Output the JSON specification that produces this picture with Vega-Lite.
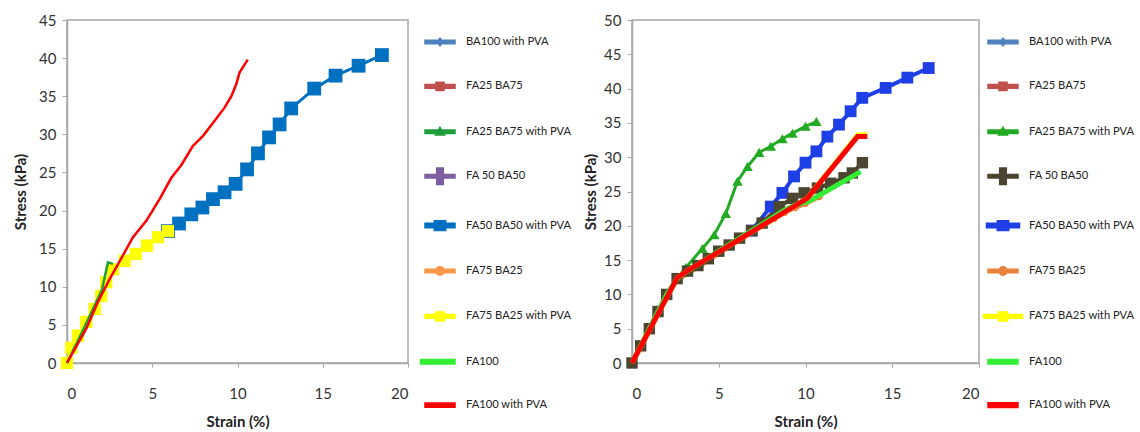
{
  "$schema": "https://vega.github.io/schema/vega-lite/v6.json",
  "padding": {"left": 12, "top": 12, "right": 0, "bottom": 0},
  "background": "white",
  "config": {
    "font": "Lato",
    "view": {"stroke": "#a6a6a6", "strokeWidth": 1.5},
    "axis": {"grid": false, "ticks": true, "domainColor": "#a6a6a6", "domainWidth": 1.5, "tickColor": "#a6a6a6", "labelFont": "Lato", "labelFontSize": 15, "labelColor": "#333333", "titleFont": "Lato", "titleFontSize": 15, "titleFontWeight": "bold", "titleColor": "#222222"},
    "axisX": {"tickSize": 4, "labelPadding": 19, "titlePadding": 13},
    "axisY": {"tickSize": 5, "labelPadding": 6},
    "legend": {"title": null, "orient": "right", "padding": 6, "rowPadding": 21.4, "symbolSize": 900, "labelFont": "Lato", "labelFontSize": 11.2, "labelColor": "#222222", "labelOffset": 10}
  },
  "datasets": {
    "xticks": [{"x": 0}, {"x": 5}, {"x": 10}, {"x": 15}, {"x": 20}],
    "yticksL": [{"y": 5}, {"y": 10}, {"y": 15}, {"y": 20}, {"y": 25}, {"y": 30}, {"y": 35}, {"y": 40}, {"y": 45}],
    "yticksR": [{"y": 5}, {"y": 10}, {"y": 15}, {"y": 20}, {"y": 25}, {"y": 30}, {"y": 35}, {"y": 40}, {"y": 45}, {"y": 50}],
    "left": [
      {"s": "FA50 BA50 with PVA", "x": 5.92, "y": 17.3},
      {"s": "FA50 BA50 with PVA", "x": 6.57, "y": 18.3},
      {"s": "FA50 BA50 with PVA", "x": 7.29, "y": 19.5},
      {"s": "FA50 BA50 with PVA", "x": 7.94, "y": 20.4},
      {"s": "FA50 BA50 with PVA", "x": 8.56, "y": 21.5},
      {"s": "FA50 BA50 with PVA", "x": 9.24, "y": 22.4},
      {"s": "FA50 BA50 with PVA", "x": 9.89, "y": 23.5},
      {"s": "FA50 BA50 with PVA", "x": 10.56, "y": 25.4},
      {"s": "FA50 BA50 with PVA", "x": 11.2, "y": 27.5},
      {"s": "FA50 BA50 with PVA", "x": 11.85, "y": 29.6},
      {"s": "FA50 BA50 with PVA", "x": 12.47, "y": 31.3},
      {"s": "FA50 BA50 with PVA", "x": 13.15, "y": 33.4},
      {"s": "FA50 BA50 with PVA", "x": 14.5, "y": 36.0},
      {"s": "FA50 BA50 with PVA", "x": 15.75, "y": 37.7},
      {"s": "FA50 BA50 with PVA", "x": 17.1, "y": 39.0},
      {"s": "FA50 BA50 with PVA", "x": 18.47, "y": 40.4},
      {"s": "FA75 BA25 with PVA", "x": 0, "y": 0},
      {"s": "FA75 BA25 with PVA", "x": 0.25, "y": 2.0},
      {"s": "FA75 BA25 with PVA", "x": 0.64, "y": 3.6},
      {"s": "FA75 BA25 with PVA", "x": 1.13, "y": 5.4},
      {"s": "FA75 BA25 with PVA", "x": 1.62, "y": 7.1},
      {"s": "FA75 BA25 with PVA", "x": 2.0, "y": 8.8},
      {"s": "FA75 BA25 with PVA", "x": 2.3, "y": 10.6},
      {"s": "FA75 BA25 with PVA", "x": 2.7, "y": 12.3},
      {"s": "FA75 BA25 with PVA", "x": 3.38, "y": 13.4},
      {"s": "FA75 BA25 with PVA", "x": 4.03, "y": 14.3},
      {"s": "FA75 BA25 with PVA", "x": 4.69, "y": 15.4},
      {"s": "FA75 BA25 with PVA", "x": 5.34, "y": 16.5},
      {"s": "FA75 BA25 with PVA", "x": 5.92, "y": 17.3},
      {"s": "FA25 BA75 with PVA", "x": 0, "y": 0},
      {"s": "FA25 BA75 with PVA", "x": 1.0, "y": 4.6},
      {"s": "FA25 BA75 with PVA", "x": 2.05, "y": 9.6},
      {"s": "FA25 BA75 with PVA", "x": 2.4, "y": 13.2},
      {"s": "FA25 BA75 with PVA", "x": 2.7, "y": 13.0},
      {"s": "FA100 with PVA", "x": 0, "y": 0},
      {"s": "FA100 with PVA", "x": 1.13, "y": 4.5},
      {"s": "FA100 with PVA", "x": 1.8, "y": 7.95},
      {"s": "FA100 with PVA", "x": 2.5, "y": 11.0},
      {"s": "FA100 with PVA", "x": 3.3, "y": 14.2},
      {"s": "FA100 with PVA", "x": 3.87, "y": 16.5},
      {"s": "FA100 with PVA", "x": 4.65, "y": 18.65},
      {"s": "FA100 with PVA", "x": 5.43, "y": 21.5},
      {"s": "FA100 with PVA", "x": 6.12, "y": 24.3},
      {"s": "FA100 with PVA", "x": 6.7, "y": 25.95},
      {"s": "FA100 with PVA", "x": 7.39, "y": 28.5},
      {"s": "FA100 with PVA", "x": 7.98, "y": 29.8},
      {"s": "FA100 with PVA", "x": 8.56, "y": 31.5},
      {"s": "FA100 with PVA", "x": 9.24, "y": 33.5},
      {"s": "FA100 with PVA", "x": 9.64, "y": 35.0},
      {"s": "FA100 with PVA", "x": 9.93, "y": 36.6},
      {"s": "FA100 with PVA", "x": 10.12, "y": 38.1},
      {"s": "FA100 with PVA", "x": 10.6, "y": 39.8}
    ],
    "right": [
      {"s": "FA75 BA25", "x": 0, "y": 0},
      {"s": "FA75 BA25", "x": 0.5, "y": 2.2},
      {"s": "FA75 BA25", "x": 1.0, "y": 4.6},
      {"s": "FA75 BA25", "x": 1.5, "y": 7.1},
      {"s": "FA75 BA25", "x": 2.0, "y": 9.5},
      {"s": "FA75 BA25", "x": 2.6, "y": 12.0},
      {"s": "FA75 BA25", "x": 3.2, "y": 13.0},
      {"s": "FA75 BA25", "x": 3.8, "y": 13.9},
      {"s": "FA75 BA25", "x": 4.4, "y": 14.9},
      {"s": "FA75 BA25", "x": 5.0, "y": 15.9},
      {"s": "FA75 BA25", "x": 5.6, "y": 16.9},
      {"s": "FA75 BA25", "x": 6.2, "y": 17.9},
      {"s": "FA75 BA25", "x": 6.9, "y": 19.0},
      {"s": "FA75 BA25", "x": 7.5, "y": 20.0},
      {"s": "FA75 BA25", "x": 8.2, "y": 21.0},
      {"s": "FA75 BA25", "x": 8.8, "y": 21.9},
      {"s": "FA75 BA25", "x": 9.4, "y": 22.6},
      {"s": "FA75 BA25", "x": 10.0, "y": 23.2},
      {"s": "FA75 BA25", "x": 10.8, "y": 24.2},
      {"s": "FA25 BA75 with PVA", "x": 0, "y": 0},
      {"s": "FA25 BA75 with PVA", "x": 0.5, "y": 2.5},
      {"s": "FA25 BA75 with PVA", "x": 1.0, "y": 5.0},
      {"s": "FA25 BA75 with PVA", "x": 1.5, "y": 7.5},
      {"s": "FA25 BA75 with PVA", "x": 2.0, "y": 10.0},
      {"s": "FA25 BA75 with PVA", "x": 2.6, "y": 12.3},
      {"s": "FA25 BA75 with PVA", "x": 3.1, "y": 13.9},
      {"s": "FA25 BA75 with PVA", "x": 4.06, "y": 16.7},
      {"s": "FA25 BA75 with PVA", "x": 4.74, "y": 18.7},
      {"s": "FA25 BA75 with PVA", "x": 5.41, "y": 21.8},
      {"s": "FA25 BA75 with PVA", "x": 6.08, "y": 26.5},
      {"s": "FA25 BA75 with PVA", "x": 6.66, "y": 28.65},
      {"s": "FA25 BA75 with PVA", "x": 7.33, "y": 30.7},
      {"s": "FA25 BA75 with PVA", "x": 8.0, "y": 31.6},
      {"s": "FA25 BA75 with PVA", "x": 8.67, "y": 32.7},
      {"s": "FA25 BA75 with PVA", "x": 9.25, "y": 33.5},
      {"s": "FA25 BA75 with PVA", "x": 10.0, "y": 34.5},
      {"s": "FA25 BA75 with PVA", "x": 10.63, "y": 35.2},
      {"s": "FA50 BA50 with PVA", "x": 6.9, "y": 19.3},
      {"s": "FA50 BA50 with PVA", "x": 8.0, "y": 22.8},
      {"s": "FA50 BA50 with PVA", "x": 8.67, "y": 24.8},
      {"s": "FA50 BA50 with PVA", "x": 9.34, "y": 27.2},
      {"s": "FA50 BA50 with PVA", "x": 10.0, "y": 29.2},
      {"s": "FA50 BA50 with PVA", "x": 10.63, "y": 30.85},
      {"s": "FA50 BA50 with PVA", "x": 11.26, "y": 33.0},
      {"s": "FA50 BA50 with PVA", "x": 11.93, "y": 34.75},
      {"s": "FA50 BA50 with PVA", "x": 12.6, "y": 36.7},
      {"s": "FA50 BA50 with PVA", "x": 13.27, "y": 38.65},
      {"s": "FA50 BA50 with PVA", "x": 14.62, "y": 40.1},
      {"s": "FA50 BA50 with PVA", "x": 15.87, "y": 41.6},
      {"s": "FA50 BA50 with PVA", "x": 17.1, "y": 43.0},
      {"s": "FA 50 BA50", "x": 0, "y": 0},
      {"s": "FA 50 BA50", "x": 0.5, "y": 2.5},
      {"s": "FA 50 BA50", "x": 1.0, "y": 5.0},
      {"s": "FA 50 BA50", "x": 1.5, "y": 7.5},
      {"s": "FA 50 BA50", "x": 2.0, "y": 10.0},
      {"s": "FA 50 BA50", "x": 2.6, "y": 12.3},
      {"s": "FA 50 BA50", "x": 3.2, "y": 13.4},
      {"s": "FA 50 BA50", "x": 3.8, "y": 14.2},
      {"s": "FA 50 BA50", "x": 4.4, "y": 15.2},
      {"s": "FA 50 BA50", "x": 5.0, "y": 16.3},
      {"s": "FA 50 BA50", "x": 5.6, "y": 17.2},
      {"s": "FA 50 BA50", "x": 6.2, "y": 18.2},
      {"s": "FA 50 BA50", "x": 6.9, "y": 19.3},
      {"s": "FA 50 BA50", "x": 7.5, "y": 20.4},
      {"s": "FA 50 BA50", "x": 8.49, "y": 22.8},
      {"s": "FA 50 BA50", "x": 9.25, "y": 24.0},
      {"s": "FA 50 BA50", "x": 9.92, "y": 24.8},
      {"s": "FA 50 BA50", "x": 10.69, "y": 25.5},
      {"s": "FA 50 BA50", "x": 11.45, "y": 26.2},
      {"s": "FA 50 BA50", "x": 12.22, "y": 27.0},
      {"s": "FA 50 BA50", "x": 12.7, "y": 27.7},
      {"s": "FA 50 BA50", "x": 13.28, "y": 29.2},
      {"s": "FA75 BA25 with PVA", "x": 0, "y": 0},
      {"s": "FA75 BA25 with PVA", "x": 2.6, "y": 12.4},
      {"s": "FA75 BA25 with PVA", "x": 3.3, "y": 13.6},
      {"s": "FA75 BA25 with PVA", "x": 10.1, "y": 24.0},
      {"s": "FA75 BA25 with PVA", "x": 13.0, "y": 33.2},
      {"s": "FA75 BA25 with PVA", "x": 13.56, "y": 33.3},
      {"s": "FA100", "x": 0, "y": 0},
      {"s": "FA100", "x": 1.0, "y": 5.0},
      {"s": "FA100", "x": 2.0, "y": 10.0},
      {"s": "FA100", "x": 2.6, "y": 12.3},
      {"s": "FA100", "x": 3.2, "y": 13.4},
      {"s": "FA100", "x": 5.0, "y": 16.3},
      {"s": "FA100", "x": 6.9, "y": 19.3},
      {"s": "FA100", "x": 8.8, "y": 22.3},
      {"s": "FA100", "x": 9.4, "y": 23.0},
      {"s": "FA100", "x": 10.2, "y": 23.6},
      {"s": "FA100", "x": 13.18, "y": 27.9},
      {"s": "FA100 with PVA", "x": 0, "y": 0},
      {"s": "FA100 with PVA", "x": 2.6, "y": 12.4},
      {"s": "FA100 with PVA", "x": 3.3, "y": 13.6},
      {"s": "FA100 with PVA", "x": 10.1, "y": 24.0},
      {"s": "FA100 with PVA", "x": 13.0, "y": 33.0},
      {"s": "FA100 with PVA", "x": 13.56, "y": 33.0}
    ]
  },
  "resolve": {"scale": {"color": "independent", "shape": "independent", "size": "independent", "strokeWidth": "independent"}, "legend": {"color": "independent"}},
  "spacing": 3,
  "hconcat": [
    {
      "width": 341,
      "height": 343,
      "data": {"name": "left"},
      "encoding": {
        "x": {"field": "x", "type": "quantitative", "scale": {"domain": [0, 20]}, "axis": {"title": "Strain (%)", "values": [0, 5, 10, 15, 20]}},
        "y": {"field": "y", "type": "quantitative", "scale": {"domain": [0, 45]}, "axis": {"title": "Stress (kPa)", "titlePadding": 10, "values": [0, 5, 10, 15, 20, 25, 30, 35, 40, 45]}},
        "color": {
          "field": "s", "type": "nominal",
          "scale": {
            "domain": ["BA100 with PVA", "FA25 BA75", "FA25 BA75 with PVA", "FA 50 BA50", "FA50 BA50 with PVA", "FA75 BA25", "FA75 BA25 with PVA", "FA100", "FA100 with PVA"],
            "range": ["#4F81BD", "#C0504D", "#1f9e3a", "#7F5FA0", "#0070C0", "#F79646", "#FFFF00", "#33EE33", "#FF0000"]
          },
          "legend": {
            "offset": 10,
            "encode": {
              "symbols": {
                "update": {
                  "shape": {"signal": "{'BA100 with PVA':'M-1,-0.12H1V0.12H-1Z M0,-0.25L0.2,0L0,0.25L-0.2,0Z','FA25 BA75':'M-1,-0.12H1V0.12H-1Z M-0.27,-0.27H0.27V0.27H-0.27Z','FA25 BA75 with PVA':'M-1,-0.12H1V0.12H-1Z M0,-0.3L0.3,0.22H-0.3Z','FA 50 BA50':'M-1,-0.12H1V0.12H-1Z M-0.22,-0.55H0.22V0.55H-0.22Z','FA50 BA50 with PVA':'M-1,-0.15H1V0.15H-1Z M-0.38,-0.33H0.38V0.33H-0.38Z','FA75 BA25':'M-1,-0.12H1V0.12H-1Z M-0.28,0A0.28,0.28 0 1,1 0.28,0A0.28,0.28 0 1,1 -0.28,0Z','FA75 BA25 with PVA':'M-1,-0.12H1V0.12H-1Z M-0.3,-0.3H0.3V0.3H-0.3Z','FA100':'M-1.3,-0.15H1V0.15H-1.3Z','FA100 with PVA':'M-1,-0.14H1V0.14H-1Z'}[datum.value]"},
                  "fill": {"signal": "{'BA100 with PVA':'#4F81BD','FA25 BA75':'#B0403D','FA25 BA75 with PVA':'#86A94A','FA 50 BA50':'#5a3f7a','FA50 BA50 with PVA':'#0070C0','FA75 BA25':'#D9823A','FA75 BA25 with PVA':'#FFFF00','FA100':'#33EE33','FA100 with PVA':'#FF0000'}[datum.value]"},
                  "stroke": {"value": "transparent"},
                  "opacity": {"value": 1}
                }
              }
            }
          }
        }
      },
      "layer": [
        {
          "data": {"name": "xticks"},
          "mark": {"type": "tick", "orient": "vertical", "size": 20, "thickness": 2, "yOffset": -7.3, "opacity": 1},
          "encoding": {"y": {"datum": 0}, "color": {"value": "#8c8c8c"}}
        },
        {
          "data": {"name": "yticksL"},
          "mark": {"type": "tick", "orient": "horizontal", "size": 18, "thickness": 2, "xOffset": 3.5, "opacity": 1},
          "encoding": {"x": {"datum": 0}, "color": {"value": "#8c8c8c"}}
        },
        {
          "transform": [{"filter": {"field": "s", "oneOf": ["FA50 BA50 with PVA", "FA75 BA25 with PVA"]}}],
          "mark": {"type": "line", "strokeWidth": 3}
        },
        {
          "transform": [{"filter": {"field": "s", "oneOf": ["FA50 BA50 with PVA", "FA75 BA25 with PVA"]}}],
          "mark": {"type": "point", "filled": true, "opacity": 1},
          "encoding": {
            "shape": {"field": "s", "type": "nominal", "scale": {"domain": ["FA50 BA50 with PVA", "FA75 BA25 with PVA"], "range": ["square", "square"]}, "legend": null},
            "size": {"field": "s", "type": "nominal", "scale": {"type": "ordinal", "domain": ["FA50 BA50 with PVA", "FA75 BA25 with PVA"], "range": [190, 150]}, "legend": null}
          }
        },
        {
          "transform": [{"filter": {"field": "s", "oneOf": ["FA25 BA75 with PVA", "FA100 with PVA"]}}],
          "mark": {"type": "line", "strokeWidth": 2.5}
        }
      ]
    },
    {
      "width": 347,
      "height": 343,
      "data": {"name": "right"},
      "encoding": {
        "x": {"field": "x", "type": "quantitative", "scale": {"domain": [0, 20]}, "axis": {"title": "Strain (%)", "values": [0, 5, 10, 15, 20]}},
        "y": {"field": "y", "type": "quantitative", "scale": {"domain": [0, 50]}, "axis": {"title": "Stress (kPa)", "titlePadding": 5, "values": [0, 5, 10, 15, 20, 25, 30, 35, 40, 45, 50]}},
        "color": {
          "field": "s", "type": "nominal",
          "scale": {
            "domain": ["BA100 with PVA", "FA25 BA75", "FA25 BA75 with PVA", "FA 50 BA50", "FA50 BA50 with PVA", "FA75 BA25", "FA75 BA25 with PVA", "FA100", "FA100 with PVA"],
            "range": ["#4F81BD", "#C0504D", "#22AA22", "#4A4430", "#1f3fe6", "#E8823A", "#FFFF00", "#33EE33", "#FF0000"]
          },
          "legend": {
            "offset": 2,
            "encode": {
              "symbols": {
                "update": {
                  "shape": {"signal": "{'BA100 with PVA':'M-1,-0.12H1V0.12H-1Z M0,-0.25L0.2,0L0,0.25L-0.2,0Z','FA25 BA75':'M-1,-0.12H1V0.12H-1Z M-0.27,-0.27H0.27V0.27H-0.27Z','FA25 BA75 with PVA':'M-1,-0.12H1V0.12H-1Z M0,-0.3L0.3,0.22H-0.3Z','FA 50 BA50':'M-1,-0.12H1V0.12H-1Z M-0.22,-0.55H0.22V0.55H-0.22Z','FA50 BA50 with PVA':'M-1.1,-0.15H1.1V0.15H-1.1Z M-0.38,-0.33H0.38V0.33H-0.38Z','FA75 BA25':'M-1,-0.12H1V0.12H-1Z M-0.28,0A0.28,0.28 0 1,1 0.28,0A0.28,0.28 0 1,1 -0.28,0Z','FA75 BA25 with PVA':'M-1.3,-0.12H1.3V0.12H-1.3Z M-0.3,-0.3H0.3V0.3H-0.3Z','FA100':'M-1,-0.15H1V0.15H-1Z','FA100 with PVA':'M-1,-0.16H1V0.16H-1Z'}[datum.value]"},
                  "fill": {"signal": "{'BA100 with PVA':'#4F81BD','FA25 BA75':'#B0403D','FA25 BA75 with PVA':'#22AA22','FA 50 BA50':'#3a3520','FA50 BA50 with PVA':'#0070C0','FA75 BA25':'#D9823A','FA75 BA25 with PVA':'#FFFF00','FA100':'#33EE33','FA100 with PVA':'#FF0000'}[datum.value]"},
                  "stroke": {"value": "transparent"},
                  "opacity": {"value": 1}
                }
              }
            }
          }
        }
      },
      "layer": [
        {
          "data": {"name": "xticks"},
          "mark": {"type": "tick", "orient": "vertical", "size": 20, "thickness": 2, "yOffset": -7.3, "opacity": 1},
          "encoding": {"y": {"datum": 0}, "color": {"value": "#8c8c8c"}}
        },
        {
          "data": {"name": "yticksR"},
          "mark": {"type": "tick", "orient": "horizontal", "size": 18, "thickness": 2, "xOffset": 3.5, "opacity": 1},
          "encoding": {"x": {"datum": 0}, "color": {"value": "#8c8c8c"}}
        },
        {
          "transform": [{"filter": {"field": "s", "oneOf": ["FA75 BA25", "FA25 BA75 with PVA", "FA50 BA50 with PVA", "FA 50 BA50"]}}],
          "mark": {"type": "line"},
          "encoding": {
            "strokeWidth": {"field": "s", "type": "nominal", "scale": {"type": "ordinal", "domain": ["FA75 BA25", "FA25 BA75 with PVA", "FA50 BA50 with PVA", "FA 50 BA50"], "range": [4, 3, 4, 4]}, "legend": null}
          }
        },
        {
          "transform": [{"filter": {"field": "s", "oneOf": ["FA75 BA25", "FA25 BA75 with PVA", "FA50 BA50 with PVA", "FA 50 BA50"]}}],
          "mark": {"type": "point", "filled": true, "opacity": 1},
          "encoding": {
            "shape": {"field": "s", "type": "nominal", "scale": {"domain": ["FA75 BA25", "FA25 BA75 with PVA", "FA50 BA50 with PVA", "FA 50 BA50"], "range": ["circle", "triangle-up", "square", "square"]}, "legend": null},
            "size": {"field": "s", "type": "nominal", "scale": {"type": "ordinal", "domain": ["FA75 BA25", "FA25 BA75 with PVA", "FA50 BA50 with PVA", "FA 50 BA50"], "range": [40, 110, 140, 130]}, "legend": null}
          }
        },
        {
          "transform": [{"filter": {"field": "s", "oneOf": ["FA75 BA25 with PVA", "FA100", "FA100 with PVA"]}}],
          "mark": {"type": "line", "strokeWidth": 5}
        }
      ]
    }
  ]
}
